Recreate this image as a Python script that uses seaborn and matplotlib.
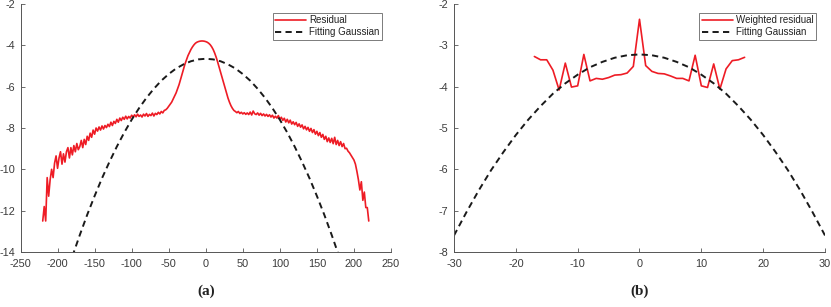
import numpy as np
import pandas as pd
import matplotlib
matplotlib.use("Agg")
import matplotlib.pyplot as plt
import seaborn as sns

# ---------------- data: panel (a) ----------------
res_a_x = list(range(-220, 221, 2))
res_a_y = [
    -12.5, -11.8, -12.5, -10.4, -11.3, -10.5, -10.0, -10.4, -9.7, -9.35,
    -9.95, -9.45, -9.15, -9.75, -9.25, -9.65, -9.15, -8.95, -9.45, -8.95,
    -9.3, -8.85, -9.15, -8.75, -9.05, -8.9, -8.6, -8.95, -8.55, -8.8,
    -8.4, -8.6, -8.25, -8.45, -8.1, -8.3, -8.0, -8.15, -7.95, -8.1,
    -7.9, -8.05, -7.88, -7.98, -7.82, -7.93, -7.72, -7.88, -7.68, -7.78,
    -7.58, -7.72, -7.52, -7.64, -7.48, -7.58, -7.43, -7.56, -7.44, -7.52,
    -7.38, -7.47, -7.36, -7.46, -7.33, -7.44, -7.37, -7.47, -7.33, -7.42,
    -7.3, -7.44, -7.34, -7.4, -7.28, -7.42, -7.29, -7.35, -7.24, -7.32,
    -7.2, -7.27, -7.15, -7.12, -7.05, -6.95, -6.85, -6.75, -6.6, -6.45,
    -6.3, -6.1, -5.9, -5.65, -5.4, -5.15, -4.9, -4.7, -4.5, -4.35,
    -4.2, -4.08, -3.98, -3.9, -3.85, -3.82, -3.8, -3.79, -3.79, -3.8,
    -3.82, -3.85, -3.9, -3.97, -4.07, -4.2, -4.37, -4.57, -4.8, -5.05,
    -5.3, -5.55, -5.8, -6.05, -6.3, -6.55, -6.75, -6.92, -7.05, -7.15,
    -7.2, -7.26, -7.2, -7.3, -7.24, -7.32, -7.26, -7.34, -7.27, -7.35,
    -7.23, -7.37, -7.18, -7.31, -7.35, -7.27, -7.38, -7.29, -7.4, -7.32,
    -7.42, -7.34, -7.44, -7.36, -7.47, -7.38, -7.52, -7.43, -7.52, -7.4,
    -7.58, -7.48, -7.63, -7.53, -7.71, -7.58, -7.75, -7.62, -7.81, -7.7,
    -7.84, -7.73, -7.92, -7.8, -7.96, -7.85, -8.04, -7.92, -8.09, -7.97,
    -8.16, -8.02, -8.22, -8.08, -8.3, -8.16, -8.37, -8.22, -8.45, -8.31,
    -8.55, -8.4, -8.66, -8.48, -8.7, -8.5, -8.76, -8.45, -8.8, -8.6,
    -8.85, -8.66, -8.9, -8.75, -9.0, -8.98, -9.12, -9.2, -9.32, -9.45,
    -9.55, -9.75, -10.1, -10.5, -11.0, -10.6, -11.5, -11.1, -11.85, -11.85,
    -12.5,
]
gauss_a_x = [-180, -170, -160, -150, -140, -130, -120, -110, -100, -90,
             -80, -70, -60, -50, -40, -30, -20, -10, 0,
             10, 20, 30, 40, 50, 60, 70, 80, 90, 100,
             110, 120, 130, 140, 150, 160, 170, 180]
gauss_a_y = [-14.21, -13.18, -12.20, -11.29, -10.43, -9.64, -8.90, -8.22, -7.60, -7.04,
             -6.54, -6.10, -5.71, -5.39, -5.12, -4.92, -4.77, -4.68, -4.65,
             -4.68, -4.77, -4.92, -5.12, -5.39, -5.71, -6.10, -6.54, -7.04, -7.60,
             -8.22, -8.90, -9.64, -10.43, -11.29, -12.20, -13.18, -14.21]

# ---------------- data: panel (b) ----------------
res_b_x = list(range(-17, 18))
res_b_y = [-3.27, -3.35, -3.35, -3.60, -4.08, -3.43, -4.01, -3.98, -3.22, -3.86,
           -3.80, -3.82, -3.78, -3.72, -3.71, -3.67, -3.51, -2.37, -3.49, -3.63,
           -3.68, -3.69, -3.74, -3.80, -3.80, -3.86, -3.24, -3.98, -4.02, -3.45,
           -4.06, -3.57, -3.37, -3.35, -3.29]
gauss_b_x = [-30, -28, -26, -24, -22, -20, -18, -16, -14, -12, -10, -8, -6, -4, -2, 0,
             2, 4, 6, 8, 10, 12, 14, 16, 18, 20, 22, 24, 26, 28, 30]
gauss_b_y = [-7.60, -7.04, -6.51, -6.02, -5.58, -5.17, -4.80, -4.47, -4.17, -3.92,
             -3.71, -3.53, -3.40, -3.30, -3.24, -3.22,
             -3.24, -3.30, -3.40, -3.53, -3.71, -3.92, -4.17, -4.47, -4.80, -5.17,
             -5.58, -6.02, -6.51, -7.04, -7.60]

xticks_a = [-250, -200, -150, -100, -50, 0, 50, 100, 150, 200, 250]
yticks_a = [-14, -12, -10, -8, -6, -4, -2]
xticks_b = [-30, -20, -10, 0, 10, 20, 30]
yticks_b = [-8, -7, -6, -5, -4, -3, -2]

labels_a = ["Residual", "Fitting Gaussian"]
labels_b = ["Weighted residual", "Fitting Gaussian"]
panel_tags = ["(a)", "(b)"]

# ---------------- styling ----------------
sns.set_theme(style="ticks")
plt.rcParams["font.family"] = ["Liberation Sans", "DejaVu Sans"]
plt.rcParams["axes.unicode_minus"] = False

RED = "#ee1c25"
BLK = "#1a1a1a"
AX_COL = "#3a3a3a"
W, H = 831, 307

fig = plt.figure(figsize=(W / 100, H / 100), dpi=100)
ax_a = fig.add_axes([20.5 / W, 55 / H, (391 - 20.5) / W, 248 / H])
ax_b = fig.add_axes([454 / W, 55 / H, (825 - 454) / W, 248 / H])


def draw(ax, rx, ry, gx, gy, labels, xt, yt, xlim, ylim, tag):
    dres = pd.DataFrame({"x": rx, "y": ry})
    dg = pd.DataFrame({"x": gx, "y": gy})
    sns.lineplot(data=dres, x="x", y="y", ax=ax, color=RED, lw=1.2,
                 estimator=None, sort=False, label=labels[0])
    sns.lineplot(data=dg, x="x", y="y", ax=ax, color=BLK, lw=1.4,
                 estimator=None, sort=False, label=labels[1])
    ax.lines[1].set_dashes((3.2, 2.2))
    ax.set_xlim(*xlim)
    ax.set_ylim(*ylim)
    ax.set_xticks(xt)
    ax.set_yticks(yt)
    ax.set_xlabel("")
    ax.set_ylabel("")
    for s in ("top", "right"):
        ax.spines[s].set_visible(False)
    for s in ("left", "bottom"):
        ax.spines[s].set_color("#555555")
        ax.spines[s].set_linewidth(0.7)
    ax.tick_params(direction="in", length=3, width=0.6, color="#555555",
                   labelsize=7.8, labelcolor=AX_COL)
    ax.tick_params(axis="x", pad=5)
    ax.tick_params(axis="y", pad=4)
    ax.set_facecolor("white")
    aw = ax.get_position().width * W
    ah = ax.get_position().height * H
    leg = ax.legend(loc="upper right",
                    bbox_to_anchor=(1 - 9 / aw, 1 - 9 / ah),
                    borderaxespad=0, fontsize=7, frameon=True, fancybox=False,
                    edgecolor="#666666", framealpha=1, handlelength=3.2,
                    handletextpad=0.3, borderpad=0.25, labelspacing=0.2)
    leg.get_frame().set_linewidth(0.6)
    for t in leg.get_texts():
        t.set_color("#222222")
    ax.text(0.5, -0.13, tag, transform=ax.transAxes, ha="center", va="top",
            fontsize=11, fontweight="bold", family="Liberation Serif",
            color="#222222")


draw(ax_a, res_a_x, res_a_y, gauss_a_x, gauss_a_y, labels_a, xticks_a, yticks_a,
     (-250, 250), (-14, -2), panel_tags[0])
draw(ax_b, res_b_x, res_b_y, gauss_b_x, gauss_b_y, labels_b, xticks_b, yticks_b,
     (-30, 30), (-8, -2), panel_tags[1])

fig.savefig("out.png", dpi=100, facecolor="white")
